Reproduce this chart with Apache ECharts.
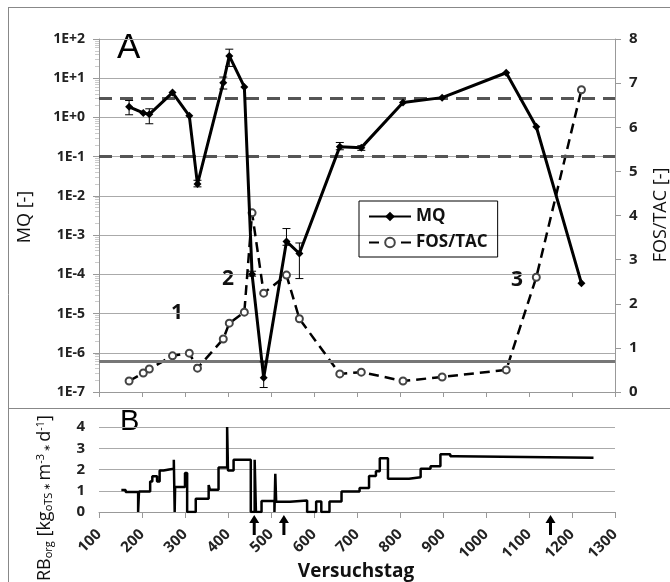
<!DOCTYPE html>
<html>
<head>
<meta charset="utf-8">
<script src="https://cdn.jsdelivr.net/npm/echarts@6/dist/echarts.min.js"></script>
<style>
html,body{margin:0;padding:0;background:#fff;}
#c{width:670px;height:582px;}
</style>
</head>
<body>
<div id="c"></div>
<script>
// ---- data ----
var sampleDays = [170, 203, 217, 271, 310, 329, 389, 403, 438, 456, 483, 536, 566, 660, 710, 807, 898, 1047, 1117, 1222];
var mqValues = [1.87, 1.3, 1.2, 4.3, 1.1, 0.02, 7.7, 37, 6, 1e-4, 2.3e-7, 6.9e-4, 3.4e-4, 0.18, 0.17, 2.4, 3.2, 13.8, 0.58, 5.9e-5];
var fosTacValues = [0.25, 0.43, 0.52, 0.82, 0.88, 0.54, 1.2, 1.56, 1.81, 4.06, 2.24, 2.65, 1.66, 0.41, 0.45, 0.25, 0.34, 0.5, 2.6, 6.85];
// error bars for MQ: day, low, high
var errDays = [170, 217, 329, 389, 403, 456, 483, 536, 566, 660, 710];
var errLow  = [1.17, 0.69, 0.017, 5.3, 20, 9e-5, 1.3e-7, 5.5e-4, 7.8e-5, 0.15, 0.145];
var errHigh = [2.7, 1.66, 0.025, 10.7, 55, 1.2e-4, 5.9e-7, 1.47e-3, 6.3e-4, 0.23, 0.19];
var mqThresholds = [3, 0.1];
var fosThreshold = 0.7;
// RB_org step data
var rbDays = [152, 162, 191, 193, 219, 224, 235, 241, 250, 263, 274, 276, 277, 300, 305, 325, 355, 358, 378, 398, 400, 413, 453, 462, 465, 478, 508, 510, 512, 544, 584, 605, 617, 636, 664, 706, 728, 744, 753, 772, 821, 848, 871, 894, 917, 930, 1250];
var rbValues = [1.04, 0.94, 0, 0.96, 1.44, 1.68, 1.44, 1.95, 2.0, 2.03, 2.46, 0, 1.18, 1.84, 0, 0.62, 1.27, 1.05, 2.1, 4.0, 1.95, 2.46, 0, 2.46, 0, 0.52, 0, 1.8, 0.48, 0.54, 0, 0.5, 0, 0.5, 0.97, 1.13, 1.69, 1.92, 2.53, 1.56, 1.64, 2.04, 2.15, 2.72, 2.62, 2.55, 2.55];
var arrowDays = [461, 530, 1150];
var xTicks = [100, 1300, 100]; // min, max, interval

var FONT = '"Open Sans", "DejaVu Sans", sans-serif';
var chart = echarts.init(document.getElementById('c'));

function zip2(a, b) { return a.map(function (v, i) { return [v, b[i]]; }); }

var option = {
  animation: false,
  backgroundColor: '#fff',
  grid: [
    { left: 99, top: 39, width: 516, height: 353 },
    { left: 99, top: 427, width: 516, height: 85 }
  ],
  legend: {
    data: ['MQ', 'FOS/TAC'],
    orient: 'vertical',
    left: 359, top: 201,
    borderColor: '#000', borderWidth: 1,
    padding: [7, 10, 6, 9],
    itemGap: 9,
    itemWidth: 42, itemHeight: 12,
    textStyle: { fontFamily: FONT, fontSize: 17, fontWeight: 'bold', color: '#111' }
  },
  xAxis: [
    { type: 'value', gridIndex: 0, min: xTicks[0], max: xTicks[1], interval: xTicks[2],
      axisLine: { lineStyle: { color: '#999', width: 1 } },
      axisTick: { show: true, length: 5, lineStyle: { color: '#999' } },
      axisLabel: { show: false }, splitLine: { show: false } },
    { type: 'value', gridIndex: 1, min: xTicks[0], max: xTicks[1], interval: xTicks[2],
      axisLine: { lineStyle: { color: '#999', width: 1 } },
      axisTick: { show: true, length: 6, lineStyle: { color: '#999' } },
      axisLabel: { rotate: 45, margin: 20, fontFamily: FONT, fontSize: 15, fontWeight: 'bold', color: '#222',
        formatter: function (v) { return String(v); } },
      splitLine: { show: false } }
  ],
  yAxis: [
    { type: 'log', gridIndex: 0, logBase: 10, min: 1e-7, max: 100,
      axisLine: { show: true, lineStyle: { color: '#999' } },
      axisTick: { show: true, length: 6, lineStyle: { color: '#999' } },
      minorTick: { show: true, splitNumber: 9, length: 4, lineStyle: { color: '#ccc' } },
      axisLabel: { margin: 14, fontFamily: FONT, fontSize: 14, fontWeight: 'bold', color: '#222',
        formatter: function (v) { var e = Math.round(Math.log10(v)); return '1E' + (e >= 0 ? '+' : '-') + Math.abs(e); } },
      splitLine: { show: true, lineStyle: { color: '#aaa', width: 1.2 } } },
    { type: 'value', gridIndex: 0, min: 0, max: 8, interval: 1, position: 'right',
      axisLine: { show: true, lineStyle: { color: '#999' } },
      axisTick: { show: true, length: 6, lineStyle: { color: '#999' } },
      axisLabel: { margin: 14, fontFamily: FONT, fontSize: 15, fontWeight: 'bold', color: '#222' },
      splitLine: { show: false } },
    { type: 'value', gridIndex: 1, min: 0, max: 4, interval: 1,
      axisLine: { show: false },
      axisTick: { show: false },
      axisLabel: { margin: 14, fontFamily: FONT, fontSize: 15, fontWeight: 'bold', color: '#222' },
      splitLine: { show: true, lineStyle: { color: '#aaa', width: 1.2 } } }
  ],
  series: [
    { name: 'MQ', type: 'line', xAxisIndex: 0, yAxisIndex: 0,
      data: zip2(sampleDays, mqValues),
      symbol: 'diamond', symbolSize: 8,
      itemStyle: { color: '#000' },
      lineStyle: { color: '#000', width: 3 },
      z: 5,
      markLine: { silent: true, symbol: 'none', label: { show: false },
        lineStyle: { color: '#555', width: 3, type: [13, 8] },
        data: mqThresholds.map(function (v) { return { yAxis: v }; }) } },
    { name: 'FOS/TAC', type: 'line', xAxisIndex: 0, yAxisIndex: 1,
      data: zip2(sampleDays, fosTacValues),
      symbol: 'emptyCircle', symbolSize: 7, showSymbol: true, showAllSymbol: true,
      itemStyle: { color: '#444', borderColor: '#444', borderWidth: 1 },
      lineStyle: { color: '#000', width: 2.5, type: [10, 6] },
      z: 4,
      markLine: { silent: true, symbol: 'none', label: { show: false },
        lineStyle: { color: '#777', width: 3, type: 'solid' },
        data: [{ yAxis: fosThreshold }] } },
    { name: 'err', type: 'custom', xAxisIndex: 0, yAxisIndex: 0,
      data: errDays.map(function (d, i) { return [d, errLow[i], errHigh[i]]; }),
      z: 6,
      renderItem: function (params, api) {
        var lo = api.coord([api.value(0), api.value(1)]);
        var hi = api.coord([api.value(0), api.value(2)]);
        var w = 4;
        var st = { stroke: '#000', lineWidth: 1 };
        return { type: 'group', children: [
          { type: 'line', shape: { x1: lo[0], y1: lo[1], x2: hi[0], y2: hi[1] }, style: st },
          { type: 'line', shape: { x1: lo[0] - w, y1: lo[1], x2: lo[0] + w, y2: lo[1] }, style: st },
          { type: 'line', shape: { x1: hi[0] - w, y1: hi[1], x2: hi[0] + w, y2: hi[1] }, style: st }
        ] };
      } },
    { name: 'RB', type: 'line', xAxisIndex: 1, yAxisIndex: 2,
      data: zip2(rbDays, rbValues),
      step: 'end', symbol: 'none',
      lineStyle: { color: '#000', width: 2.5 } },
    { name: 'arrows', type: 'custom', xAxisIndex: 1, yAxisIndex: 2,
      data: arrowDays.map(function (d) { return [d, 0]; }),
      renderItem: function (params, api) {
        var p = api.coord([api.value(0), api.value(1)]);
        var x = p[0], y = p[1] + 3;
        return { type: 'polygon', shape: { points: [
          [x, y], [x + 5, y + 8], [x + 1.5, y + 8], [x + 1.5, y + 20], [x - 1.5, y + 20], [x - 1.5, y + 8], [x - 5, y + 8]
        ] }, style: { fill: '#000' } };
      } }
  ],
  graphic: [
    { type: 'line', shape: { x1: 8, y1: 7.5, x2: 670, y2: 7.5 }, style: { stroke: '#888', lineWidth: 1 } },
    { type: 'line', shape: { x1: 8.5, y1: 7, x2: 8.5, y2: 582 }, style: { stroke: '#888', lineWidth: 1 } },
    { type: 'line', shape: { x1: 8, y1: 408.5, x2: 670, y2: 408.5 }, style: { stroke: '#888', lineWidth: 1 } },
    { type: 'text', left: 117, top: 31, style: { text: 'A', font: '35px "Liberation Sans", Arial, sans-serif', fill: '#000' } },
    { type: 'text', left: 120, top: 407, style: { text: 'B', font: '29px "Liberation Sans", Arial, sans-serif', fill: '#000' } },
    { type: 'text', x: 177, y: 313, style: { text: '1', font: 'bold 21px ' + FONT, fill: '#111', align: 'center', verticalAlign: 'middle' } },
    { type: 'text', x: 228, y: 279, style: { text: '2', font: 'bold 21px ' + FONT, fill: '#111', align: 'center', verticalAlign: 'middle' } },
    { type: 'text', x: 517, y: 280, style: { text: '3', font: 'bold 21px ' + FONT, fill: '#111', align: 'center', verticalAlign: 'middle' } },
    { type: 'text', x: 25, y: 217, rotation: Math.PI / 2, style: { text: 'MQ [-]', font: '18px ' + FONT, fill: '#111', align: 'center', verticalAlign: 'middle' } },
    { type: 'text', x: 661, y: 215, rotation: Math.PI / 2, style: { text: 'FOS/TAC [-]', font: '18px ' + FONT, fill: '#111', align: 'center', verticalAlign: 'middle' } },
    { type: 'text', x: 356, y: 572, style: { text: 'Versuchstag', font: 'bold 19px ' + FONT, fill: '#111', align: 'center', verticalAlign: 'middle' } },
    { type: 'text', x: 45, y: 498, rotation: Math.PI / 2, style: {
      text: '{b|RB}{s|org}{b| [kg}{s|oTS}{d| ∗ }{b|m}{p|-3}{d| ∗ }{b|d}{p|-1}{b|]}',
      align: 'center', verticalAlign: 'middle',
      rich: {
        b: { fontFamily: FONT, fontSize: 18, fill: '#111', color: '#111' },
        s: { fontFamily: FONT, fontSize: 11, color: '#111', padding: [8, 0, 0, 0] },
        p: { fontFamily: FONT, fontSize: 11, color: '#111', padding: [0, 0, 9, 0] },
        d: { fontFamily: FONT, fontSize: 9, color: '#777', padding: [4, 0, 0, 0] }
      } } }
  ]
};
chart.setOption(option);
</script>
</body>
</html>
